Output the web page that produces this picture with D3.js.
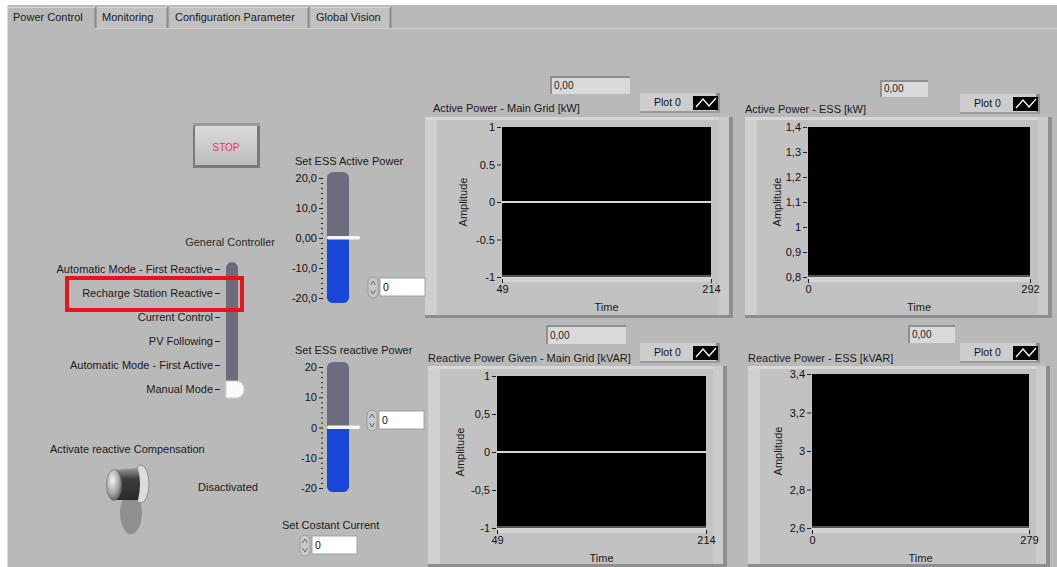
<!DOCTYPE html>
<html><head><meta charset="utf-8">
<script src="https://cdn.jsdelivr.net/npm/d3@7"></script>
<style>
body{margin:0;background:#fff}
svg{display:block;font-family:"Liberation Sans",Arial,sans-serif}
.axis path.domain{display:none}
.axis line{stroke:#222}
.axis text{fill:#111;font-size:11px;font-family:"Liberation Sans",Arial,sans-serif}
</style>
</head><body>
<svg id="c" width="1057" height="567"></svg>
<script>
// ---------------- data ----------------
const tabs = ["Power Control", "Monitoring", "Configuration Parameter", "Global Vision"];
const modes = ["Automatic Mode - First Reactive", "Recharge Station Reactive", "Current Control",
               "PV Following", "Automatic Mode - First Active", "Manual Mode"];
const selectedMode = "Manual Mode";
const highlightedMode = "Recharge Station Reactive";
const essActiveSet = 0;
const essReactiveSet = 0;
const constantCurrent = 0;
const slideDomain = [-20, 20];
const activeSlideTicks = [20, 10, 0, -10, -20];
const activeSlideLabels = ["20,0", "10,0", "0,00", "-10,0", "-20,0"];
const reactiveSlideTicks = [20, 10, 0, -10, -20];
const reactiveSlideLabels = ["20", "10", "0", "-10", "-20"];

const chartTitles = ["Active Power - Main Grid [kW]", "Active Power - ESS [kW]",
                     "Reactive Power Given - Main Grid [kVAR]", "Reactive Power - ESS [kVAR]"];
const chartIndicators = ["0,00", "0,00", "0,00", "0,00"];
const chartLegends = ["Plot 0", "Plot 0", "Plot 0", "Plot 0"];
const chartXDomains = [[49, 214], [0, 292], [49, 214], [0, 279]];
const chartYDomains = [[-1, 1], [0.8, 1.4], [-1, 1], [2.6, 3.4]];
const chartYTicks = [[1, 0.5, 0, -0.5, -1], [1.4, 1.3, 1.2, 1.1, 1, 0.9, 0.8],
                     [1, 0.5, 0, -0.5, -1], [3.4, 3.2, 3, 2.8, 2.6]];
const chartYTickLabels = [["1", "0.5", "0", "-0.5", "-1"], ["1,4", "1,3", "1,2", "1,1", "1", "0,9", "0,8"],
                          ["1", "0,5", "0", "-0,5", "-1"], ["3,4", "3,2", "3", "2,8", "2,6"]];
const seriesMainGridActive = [{t: 49, v: 0}, {t: 214, v: 0}];
const seriesEssActive = [];
const seriesMainGridReactive = [{t: 49, v: 0}, {t: 214, v: 0}];
const seriesEssReactive = [];
const chartSeries = [seriesMainGridActive, seriesEssActive, seriesMainGridReactive, seriesEssReactive];

// ---------------- layout ----------------
const PANEL = "#b9b9b9";
const chartLayout = [
  {frame: [425, 117, 308, 201], plot: [502, 127, 209, 150], title: [433, 112], ind: [550, 76, 80, 18], legend: [640, 93, 80, 20], amp: 463},
  {frame: [745, 117, 307, 201], plot: [808, 127, 222, 150], title: [745, 113], ind: [880, 80, 48, 17], legend: [960, 94, 80, 20], amp: 777},
  {frame: [428, 366, 299, 201], plot: [497, 376, 209, 152], title: [428, 362], ind: [546, 325, 80, 19], legend: [640, 343, 80, 20], amp: 460},
  {frame: [748, 366, 302, 201], plot: [812, 374, 217, 154], title: [748, 362], ind: [908, 325, 47, 18], legend: [960, 343, 80, 20], amp: 778}
];

const svg = d3.select("#c");
const defs = svg.append("defs");
const g1 = defs.append("linearGradient").attr("id", "btn").attr("x1", 0).attr("y1", 0).attr("x2", 0).attr("y2", 1);
g1.append("stop").attr("offset", 0).attr("stop-color", "#dcdcdc");
g1.append("stop").attr("offset", 1).attr("stop-color", "#bdbdbd");
const g2 = defs.append("linearGradient").attr("id", "knob").attr("x1", 0).attr("y1", 0).attr("x2", 0).attr("y2", 1);
g2.append("stop").attr("offset", 0).attr("stop-color", "#9a9a9a");
g2.append("stop").attr("offset", 0.35).attr("stop-color", "#3c3c3c");
g2.append("stop").attr("offset", 1).attr("stop-color", "#2a2a2a");
const g3 = defs.append("radialGradient").attr("id", "cap").attr("cx", 0.4).attr("cy", 0.35).attr("r", 0.7);
g3.append("stop").attr("offset", 0).attr("stop-color", "#f4f4f4");
g3.append("stop").attr("offset", 0.6).attr("stop-color", "#a8a8a8");
g3.append("stop").attr("offset", 1).attr("stop-color", "#5a5a5a");

// background panel
svg.append("rect").attr("x", 0).attr("y", 0).attr("width", 1057).attr("height", 567).attr("fill", "#fff");
svg.append("rect").attr("x", 8).attr("y", 5).attr("width", 1049).attr("height", 562).attr("fill", PANEL);
svg.append("line").attr("x1", 7.5).attr("x2", 7.5).attr("y1", 5).attr("y2", 567).attr("stroke", "#dedede");
svg.append("line").attr("x1", 95).attr("x2", 1057).attr("y1", 28.5).attr("y2", 28.5).attr("stroke", "#d2d2d2");

// tabs
const tabX = d3.scaleOrdinal().domain(tabs).range([[8, 95], [97, 167], [170, 308], [311, 390]]);
tabs.forEach((t, i) => {
  const [a, b] = tabX(t);
  const sel = i === 0;
  svg.append("rect").attr("x", a).attr("y", sel ? 5 : 7).attr("width", b - a).attr("height", sel ? 24 : 21)
    .attr("fill", sel ? PANEL : "#c1c1c1");
  svg.append("line").attr("x1", b + 0.5).attr("x2", b + 0.5).attr("y1", 7).attr("y2", 28).attr("stroke", "#8a8a8a").attr("stroke-width", 2);
  svg.append("line").attr("x1", a).attr("x2", b).attr("y1", 7.5).attr("y2", 7.5).attr("stroke", "#d8d8d8");
  svg.append("text").attr("x", a + 5).attr("y", 21).attr("font-size", 11).attr("fill", "#1a1a1a").text(t);
});

// ---------------- charts ----------------
chartLayout.forEach((L, i) => {
  const g = svg.append("g");
  const [fx, fy, fw, fh] = L.frame;
  g.append("rect").attr("x", fx).attr("y", fy).attr("width", fw).attr("height", fh).attr("fill", "#c2c2c2");
  g.append("rect").attr("x", fx).attr("y", fy).attr("width", 12).attr("height", fh).attr("fill", "#d0d0d0");
  g.append("rect").attr("x", fx).attr("y", fy).attr("width", fw).attr("height", 3).attr("fill", "#d6d6d6");
  g.append("rect").attr("x", fx + fw - 4).attr("y", fy).attr("width", 4).attr("height", fh).attr("fill", "#8e8e8e");
  g.append("rect").attr("x", fx + fw - 14).attr("y", fy).attr("width", 10).attr("height", fh).attr("fill", "#cbcbcb");
  g.append("rect").attr("x", fx).attr("y", fy + fh - 3).attr("width", fw).attr("height", 3).attr("fill", "#8e8e8e");

  // title
  g.append("text").attr("x", L.title[0]).attr("y", L.title[1]).attr("font-size", 11).attr("fill", "#1a1a1a").text(chartTitles[i]);
  // indicator
  const [ix, iy, iw, ih] = L.ind;
  g.append("rect").attr("x", ix).attr("y", iy).attr("width", iw).attr("height", ih).attr("fill", "#d9d9d9");
  g.append("rect").attr("x", ix).attr("y", iy).attr("width", iw).attr("height", 2).attr("fill", "#8f8f8f");
  g.append("rect").attr("x", ix).attr("y", iy).attr("width", 2).attr("height", ih).attr("fill", "#8f8f8f");
  g.append("text").attr("x", ix + 4).attr("y", iy + ih - 5).attr("font-size", 10).attr("fill", "#222").text(chartIndicators[i]);
  // legend
  const [lx, ly, lw, lh] = L.legend;
  g.append("rect").attr("x", lx).attr("y", ly).attr("width", lw).attr("height", lh).attr("fill", "#cdcdcd");
  g.append("rect").attr("x", lx + lw - 4).attr("y", ly).attr("width", 4).attr("height", lh).attr("fill", "#8c8c8c");
  g.append("rect").attr("x", lx).attr("y", ly + lh - 2).attr("width", lw).attr("height", 2).attr("fill", "#9a9a9a");
  g.append("text").attr("x", lx + 14).attr("y", ly + 13).attr("font-size", 10.5).attr("fill", "#111").text(chartLegends[i]);
  g.append("rect").attr("x", lx + 53).attr("y", ly + 3).attr("width", 25).attr("height", 14).attr("fill", "#000");
  g.append("polyline").attr("points", `${lx + 56},${ly + 14} ${lx + 63},${ly + 6} ${lx + 69},${ly + 13} ${lx + 76},${ly + 5}`)
    .attr("fill", "none").attr("stroke", "#fff").attr("stroke-width", 1.3);

  // plot
  const [px, py, pw, ph] = L.plot;
  const x = d3.scaleLinear().domain(chartXDomains[i]).range([px, px + pw]);
  const y = d3.scaleLinear().domain(chartYDomains[i]).range([py + ph, py]);
  g.append("rect").attr("x", px).attr("y", py + ph).attr("width", pw).attr("height", 5).attr("fill", "#d4d4d4");
  g.append("rect").attr("x", px).attr("y", py).attr("width", pw).attr("height", ph).attr("fill", "#000");
  g.append("rect").attr("x", px).attr("y", py + ph - 2).attr("width", pw).attr("height", 2).attr("fill", "#555");
  if (chartSeries[i].length) {
    g.append("path").datum(chartSeries[i])
      .attr("d", d3.line().x(d => x(d.t)).y(d => y(d.v)))
      .attr("fill", "none").attr("stroke", "#d8d8d8").attr("stroke-width", 2);
  }
  g.append("g").attr("class", "axis").attr("transform", `translate(${px - 1},0)`)
    .call(d3.axisLeft(y).tickValues(chartYTicks[i]).tickFormat((d, k) => chartYTickLabels[i][k]).tickSize(4).tickPadding(2));
  g.append("g").attr("class", "axis").attr("transform", `translate(0,${py + ph + 2})`)
    .call(d3.axisBottom(x).tickValues(chartXDomains[i]).tickSize(4).tickPadding(2));
  g.append("text").attr("x", px + pw / 2).attr("y", py + ph + 34).attr("text-anchor", "middle").attr("font-size", 11).attr("fill", "#1a1a1a").text("Time");
  g.append("text").attr("transform", `translate(${L.amp + 4},${py + ph / 2}) rotate(-90)`).attr("text-anchor", "middle")
    .attr("font-size", 11).attr("fill", "#1a1a1a").text("Amplitude");
});

// ---------------- STOP button ----------------
svg.append("rect").attr("x", 193).attr("y", 123).attr("width", 67).attr("height", 45).attr("fill", "#7a7a7a");
svg.append("rect").attr("x", 195).attr("y", 124).attr("width", 62).attr("height", 41).attr("fill", "url(#btn)");
svg.append("rect").attr("x", 193).attr("y", 123).attr("width", 67).attr("height", 3).attr("fill", "#9a9a9a");
svg.append("text").attr("x", 226).attr("y", 151).attr("text-anchor", "middle").attr("font-size", 10).attr("fill", "#f0373c").text("STOP");

// ---------------- mode selector ----------------
svg.append("text").attr("x", 275).attr("y", 246).attr("text-anchor", "end").attr("font-size", 11).attr("fill", "#2a2a2a").text("General Controller");
const modeY = d3.scalePoint().domain(modes).range([269, 389]);
svg.append("rect").attr("x", 226).attr("y", 262).attr("width", 12).attr("height", 134).attr("rx", 6).attr("fill", "#6b6b7c");
modes.forEach(m => {
  svg.append("text").attr("x", 213).attr("y", modeY(m) + 4).attr("text-anchor", "end").attr("font-size", 11).attr("fill", "#1a1a1a").text(m);
  svg.append("line").attr("x1", 215).attr("x2", 220).attr("y1", modeY(m) + 0.5).attr("y2", modeY(m) + 0.5).attr("stroke", "#222");
});
const hy = modeY(selectedMode);
svg.append("path").attr("d", `M226,${hy - 8} L238,${hy - 8} A9,9 0 0 1 238,${hy + 9} L226,${hy + 9} Z`).attr("fill", "#fafafa").attr("stroke", "#cfcfcf");
const ry = modeY(highlightedMode);
svg.append("rect").attr("x", 67).attr("y", ry - 15).attr("width", 175).attr("height", 32)
  .attr("fill", "none").attr("stroke", "#e8141b").attr("stroke-width", 4);

// ---------------- slides ----------------
function drawSlide(label, lx, ly, yTop, yBot, barTop, barBot, ticks, labels, value) {
  const s = d3.scaleLinear().domain(slideDomain).range([yBot, yTop]);
  svg.append("text").attr("x", lx).attr("y", ly).attr("font-size", 11).attr("fill", "#1a1a1a").text(label);
  svg.append("rect").attr("x", 327).attr("y", barTop).attr("width", 22).attr("height", barBot - barTop).attr("rx", 6).attr("fill", "#6c6c7e");
  svg.append("rect").attr("x", 327).attr("y", s(value)).attr("width", 22).attr("height", barBot - s(value)).attr("rx", 6).attr("fill", "#1846d8");
  svg.append("rect").attr("x", 327).attr("y", s(value)).attr("width", 22).attr("height", 8).attr("fill", "#1846d8");
  svg.append("rect").attr("x", 327).attr("y", s(value) - 2).attr("width", 33).attr("height", 3.5).attr("rx", 1.5).attr("fill", "#f6f6f6");
  const minor = d3.range(slideDomain[0], slideDomain[1] + 0.001, 10 / 6).filter(v => !ticks.some(t => Math.abs(t - v) < 0.01));
  svg.append("g").attr("class", "axis").attr("transform", "translate(323,0)")
    .call(d3.axisLeft(s).tickValues(minor).tickFormat("").tickSize(2));
  svg.append("g").attr("class", "axis").attr("transform", "translate(323,0)")
    .call(d3.axisLeft(s).tickValues(ticks).tickFormat((d, k) => labels[k]).tickSize(4).tickPadding(2));
}
drawSlide("Set ESS Active Power", 295, 165, 178, 298, 172, 303, activeSlideTicks, activeSlideLabels, essActiveSet);
drawSlide("Set ESS reactive Power", 295, 354, 367, 488, 362, 492, reactiveSlideTicks, reactiveSlideLabels, essReactiveSet);

// numeric controls
function numeric(sx, sy, bw, val) {
  svg.append("rect").attr("x", sx).attr("y", sy - 1).attr("width", 10).attr("height", 21).attr("rx", 5).attr("fill", "#c9c9c9").attr("stroke", "#9a9a9a");
  svg.append("path").attr("d", `M${sx + 2.5},${sy + 7} L${sx + 5},${sy + 3} L${sx + 7.5},${sy + 7}`).attr("fill", "none").attr("stroke", "#666");
  svg.append("path").attr("d", `M${sx + 2.5},${sy + 12} L${sx + 5},${sy + 16} L${sx + 7.5},${sy + 12}`).attr("fill", "none").attr("stroke", "#666");
  svg.append("rect").attr("x", sx + 12).attr("y", sy).attr("width", bw).attr("height", 18).attr("fill", "#fff").attr("stroke", "#a0a0a0");
  svg.append("text").attr("x", sx + 15).attr("y", sy + 13).attr("font-size", 10.5).attr("fill", "#111").text(val);
}
numeric(368, 278, 45, essActiveSet);
numeric(367, 411, 45, essReactiveSet);
svg.append("text").attr("x", 282).attr("y", 529).attr("font-size", 11).attr("fill", "#1a1a1a").text("Set Costant Current");
numeric(300, 536, 45, constantCurrent);

// ---------------- toggle ----------------
svg.append("text").attr("x", 50).attr("y", 453).attr("font-size", 11).attr("fill", "#1a1a1a").text("Activate reactive Compensation");
svg.append("text").attr("x", 198).attr("y", 491).attr("font-size", 11).attr("fill", "#1a1a1a").text("Disactivated");
svg.append("ellipse").attr("cx", 131).attr("cy", 513).attr("rx", 11).attr("ry", 21).attr("fill", "#8f8f8f");
svg.append("ellipse").attr("cx", 141).attr("cy", 484).attr("rx", 8).attr("ry", 19).attr("fill", "#dcdcdc").attr("stroke", "#8a8a8a");
svg.append("path").attr("d", "M114,470 L138,468 Q142,484 138,500 L114,500 Z").attr("fill", "url(#knob)");
svg.append("ellipse").attr("cx", 114).attr("cy", 485).attr("rx", 7.5).attr("ry", 15.5).attr("fill", "url(#cap)").attr("stroke", "#6a6a6a").attr("stroke-width", 0.6);
</script>
</body></html>
